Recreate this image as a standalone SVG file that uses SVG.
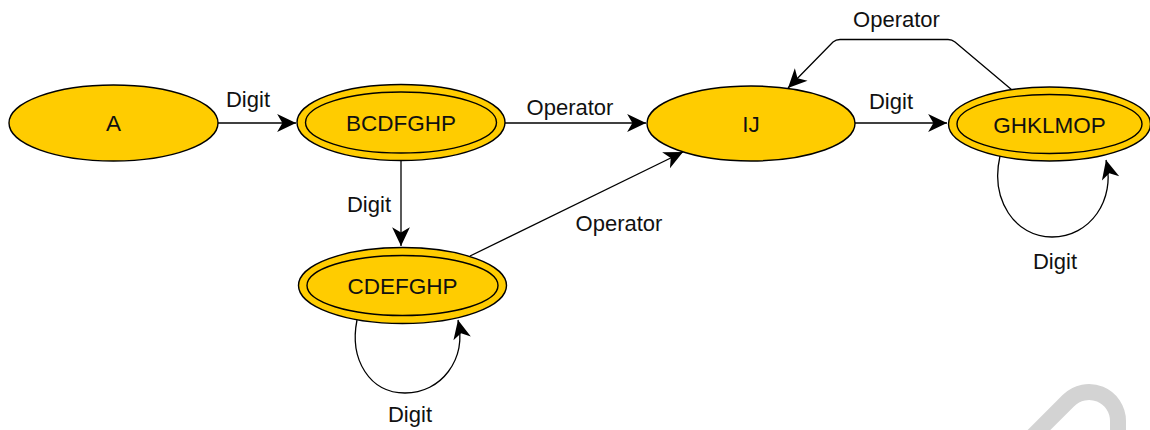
<svg xmlns="http://www.w3.org/2000/svg" width="1150" height="430" viewBox="0 0 1150 430">
  <style>
    .state { fill: #ffcc00; stroke: #000; stroke-width: 1.4; }
    .inner { fill: none; stroke: #000; stroke-width: 1.4; }
    .name { font-family: "Liberation Sans", Arial, sans-serif; font-size: 22.5px; fill: #111; text-anchor: middle; }
    .edge { fill: none; stroke: #000; stroke-width: 1.3; marker-end: url(#arrow); }
    .lbl { font-family: "Liberation Sans", Arial, sans-serif; font-size: 22px; fill: #111; text-anchor: middle; }
  </style>
  <defs>
    <marker id="arrow" markerUnits="userSpaceOnUse" markerWidth="22" markerHeight="22" refX="0" refY="0" viewBox="-20 -10 21 20" orient="auto">
      <path d="M0,0 L-18,-8.5 L-13,0 L-18,8.5 Z" fill="#000"/>
    </marker>
  </defs>
  <rect width="1150" height="430" fill="#fff"/>

  <!-- light grey pen mark in the lower right corner -->
  <path d="M1030,439 L1068.5,400.5 A29,29 0 0 1 1118,421 L1118,445" fill="none" stroke="#d3d3d3" stroke-width="16"/>

  <g id="connectors">
    <path class="edge" d="M218,123 L296,123"/>
    <text class="lbl" x="248" y="107">Digit</text>

    <path class="edge" d="M505,123 L646,123"/>
    <text class="lbl" x="570" y="115">Operator</text>

    <path class="edge" d="M401,160 L401,246"/>
    <text class="lbl" x="369" y="212">Digit</text>

    <path class="edge" d="M470,256 L683,152"/>
    <text class="lbl" x="619" y="231">Operator</text>

    <path class="edge" d="M1012,90 L955,42 Q952,39.5 948,39.5 L840,39.5 Q836,39.5 833,42 L788,88"/>
    <text class="lbl" x="896.5" y="27">Operator</text>

    <path class="edge" d="M855,123 L947,123"/>
    <text class="lbl" x="891" y="109">Digit</text>

    <path class="edge" d="M357,320 C349,360 370,393 405,393 C441,393 467,360 458,320"/>
    <text class="lbl" x="410" y="422">Digit</text>

    <path class="edge" d="M1000,156 C990,200 1015,237 1052,237 C1090,237 1116,200 1106,160"/>
    <text class="lbl" x="1055" y="269">Digit</text>
  </g>

  <g id="node-A">
    <ellipse class="state" cx="113.5" cy="123" rx="104.5" ry="38"/>
    <text class="name" x="113.5" y="131">A</text>
  </g>

  <g id="node-BCDFGHP">
    <ellipse class="state" cx="401" cy="122.5" rx="104" ry="38"/>
    <ellipse class="inner" cx="401" cy="122.5" rx="95.5" ry="30.5"/>
    <text class="name" x="401" y="131">BCDFGHP</text>
  </g>

  <g id="node-IJ">
    <ellipse class="state" cx="751" cy="123.5" rx="104" ry="37.5"/>
    <text class="name" x="751" y="132">IJ</text>
  </g>

  <g id="node-GHKLMOP">
    <ellipse class="state" cx="1049.5" cy="124" rx="101" ry="37"/>
    <ellipse class="inner" cx="1049.5" cy="124" rx="92.5" ry="29.5"/>
    <text class="name" x="1049.5" y="132.5">GHKLMOP</text>
  </g>

  <g id="node-CDEFGHP">
    <ellipse class="state" cx="402.5" cy="285.5" rx="104" ry="38"/>
    <ellipse class="inner" cx="402.5" cy="285.5" rx="95.5" ry="30"/>
    <text class="name" x="402.5" y="294">CDEFGHP</text>
  </g>
</svg>
